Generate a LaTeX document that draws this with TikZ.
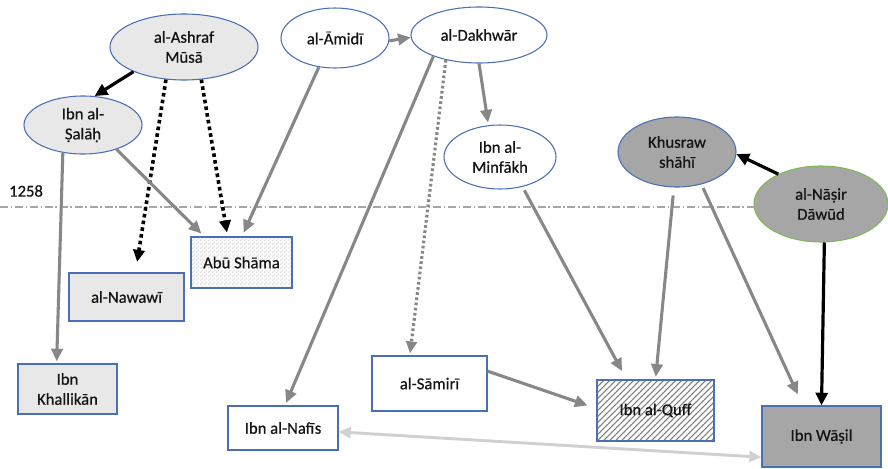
\documentclass[tikz,border=0pt]{standalone}
\usepackage{fontspec}
\setmainfont{Carlito}
\newfontfamily\nodefont{Carlito}[FakeBold=0.6]
\usetikzlibrary{arrows.meta,patterns,shapes.geometric}
\definecolor{bordblue}{HTML}{4A6FB5}
\definecolor{arrgray}{HTML}{878787}
\definecolor{lfill}{HTML}{E8E8E8}
\definecolor{dfill}{HTML}{A6A6A6}
\definecolor{grn}{HTML}{7DBA55}
\definecolor{lgarr}{HTML}{D0D0D0}
\definecolor{txt}{HTML}{141414}
\pgfdeclarepatternformonly{finecheck}{\pgfpointorigin}{\pgfqpoint{3pt}{3pt}}{\pgfqpoint{3pt}{3pt}}{%
  \pgfpathrectangle{\pgfpointorigin}{\pgfqpoint{1.5pt}{1.5pt}}%
  \pgfpathrectangle{\pgfqpoint{1.5pt}{1.5pt}}{\pgfqpoint{1.5pt}{1.5pt}}%
  \pgfusepath{fill}}
\pgfdeclarepatternformonly{hatchne}{\pgfqpoint{-1pt}{-1pt}}{\pgfqpoint{5.5pt}{5.5pt}}{\pgfqpoint{4.5pt}{4.5pt}}{%
  \pgfsetlinewidth{0.8pt}%
  \pgfpathmoveto{\pgfqpoint{0pt}{0pt}}%
  \pgfpathlineto{\pgfqpoint{4.6pt}{4.6pt}}%
  \pgfusepath{stroke}}
\begin{document}
\begin{tikzpicture}[x=0.75pt,y=-0.75pt,
 every node/.style={font=\nodefont\fontsize{12.5}{15}\selectfont, text=txt, align=center, inner sep=0pt},
 ell/.style={ellipse, draw=bordblue, line width=0.8pt},
 box/.style={rectangle, draw=bordblue, line width=0.9pt},
 garr/.style={draw=arrgray, line width=2.3pt, -{Triangle[length=9.5pt,width=8.5pt]}},
 barr/.style={draw=black, line width=2.4pt, -{Triangle[length=9.5pt,width=9pt]}},
 bdot/.style={draw=black, line width=2.7pt, dash pattern=on 2.7pt off 2.4pt, -{Triangle[length=9pt,width=8.5pt]}},
 gdot/.style={draw=arrgray, line width=2.4pt, dash pattern=on 2pt off 1.9pt, -{Triangle[length=9pt,width=8pt]}},
 larr/.style={draw=lgarr, line width=2.2pt, {Triangle[length=9pt,width=8pt]}-{Triangle[length=9pt,width=8pt]}},
]
\fill[white] (0,0) rectangle (888,468);
\useasboundingbox (0,0) rectangle (888,468);

% ellipses
\node[ell, fill=lfill, minimum width=111pt, minimum height=49.5pt] (ashraf) at (184,47) {al-Ashraf\\Mūsā};
\node[ell, fill=lfill, minimum width=88.5pt, minimum height=43.5pt] (salah) at (83,125) {Ibn al-\\Ṣalāḥ};
\node[ell, fill=white, minimum width=81pt, minimum height=45pt] (amidi) at (335,38) {al-Āmidī};
\node[ell, fill=white, minimum width=102pt, minimum height=42pt] (dakhwar) at (479,35) {al-Dakhwār};
\node[ell, fill=white, minimum width=84pt, minimum height=48pt] (minfakh) at (500,157) {Ibn al-\\Minfākh};
\node[ell, fill=dfill, minimum width=88.5pt, minimum height=52.5pt] (khusraw) at (677,152) {Khusraw\\shāhī};
\node[ell, draw=grn, fill=dfill, minimum width=100.5pt, minimum height=57pt] (nasir) at (821,204) {al-Nāṣir\\Dāwūd};

% boxes
\node[box, preaction={fill=white}, pattern=finecheck, pattern color=gray!22, minimum width=75.75pt, minimum height=38.25pt] (abu) at (241.5,262.5) {Abū Shāma};
\node[box, fill=lfill, minimum width=86.25pt, minimum height=36pt] (nawawi) at (126.5,297) {al-Nawawī};
\node[box, fill=lfill, minimum width=74.25pt, minimum height=37.5pt] (khallikan) at (67.5,389) {Ibn\\Khallikān};
\node[box, fill=white, minimum width=82.5pt, minimum height=33pt] (nafis) at (283,428) {Ibn al-Nafīs};
\node[box, fill=white, minimum width=86.25pt, minimum height=41.25pt] (samiri) at (429.5,383.5) {al-Sāmirī};
\node[box, preaction={fill=white}, pattern=hatchne, pattern color=black!50, minimum width=87.75pt, minimum height=45.75pt] (quff) at (655.5,410.5) {Ibn al-Quff};
\node[box, fill=dfill, minimum width=89.25pt, minimum height=45.75pt] (wasil) at (821.5,436.5) {Ibn Wāṣil};

% year line
\coordinate (yl) at (0,207);
\coordinate (yr) at (888,207);
\draw[draw=gray!70, line width=0.8pt, dash pattern=on 6pt off 2pt on 1.2pt off 2pt] (yl) -- (yr);
\node (year) at (26,191) {1258};

% connectors
\draw[barr] (ashraf.206) -- (salah.68);
\draw[bdot, shorten >=8pt] (ashraf.241) -- (nawawi.70);
\draw[bdot, shorten >=3pt] (ashraf.298) -- (abu.118);
\draw[garr, shorten >=3pt] (salah.324) -- (abu.145);
\draw[garr, shorten >=3pt] (amidi.241) -- (abu.89);
\draw[garr, shorten >=1.5pt] (salah.234) -- (khallikan.113);
\draw[garr] (amidi.-3) -- (dakhwar.182);
\draw[garr, shorten >=2pt] (dakhwar.205) -- (nafis.85);
\draw[gdot, shorten >=1.5pt] (dakhwar.217) -- (samiri.125);
\draw[garr, shorten >=2pt] (dakhwar.south) -- (minfakh.110);
\draw[garr, shorten >=7pt, shorten <=3pt] (minfakh.307) -- (quff.133);
\draw[garr, shorten <=6pt, shorten >=2pt] (khusraw.265) -- (quff.north);
\draw[garr, shorten <=3pt, shorten >=9pt] (khusraw.307) -- (wasil.121);
\draw[barr] (nasir.145) -- (khusraw.-2);
\draw[barr] (nasir.-85) -- (wasil.north);
\draw[garr, shorten >=7pt] (samiri.12) -- (quff.178);
\draw[larr] (nafis.-4) -- (wasil.199);
\end{tikzpicture}
\end{document}
